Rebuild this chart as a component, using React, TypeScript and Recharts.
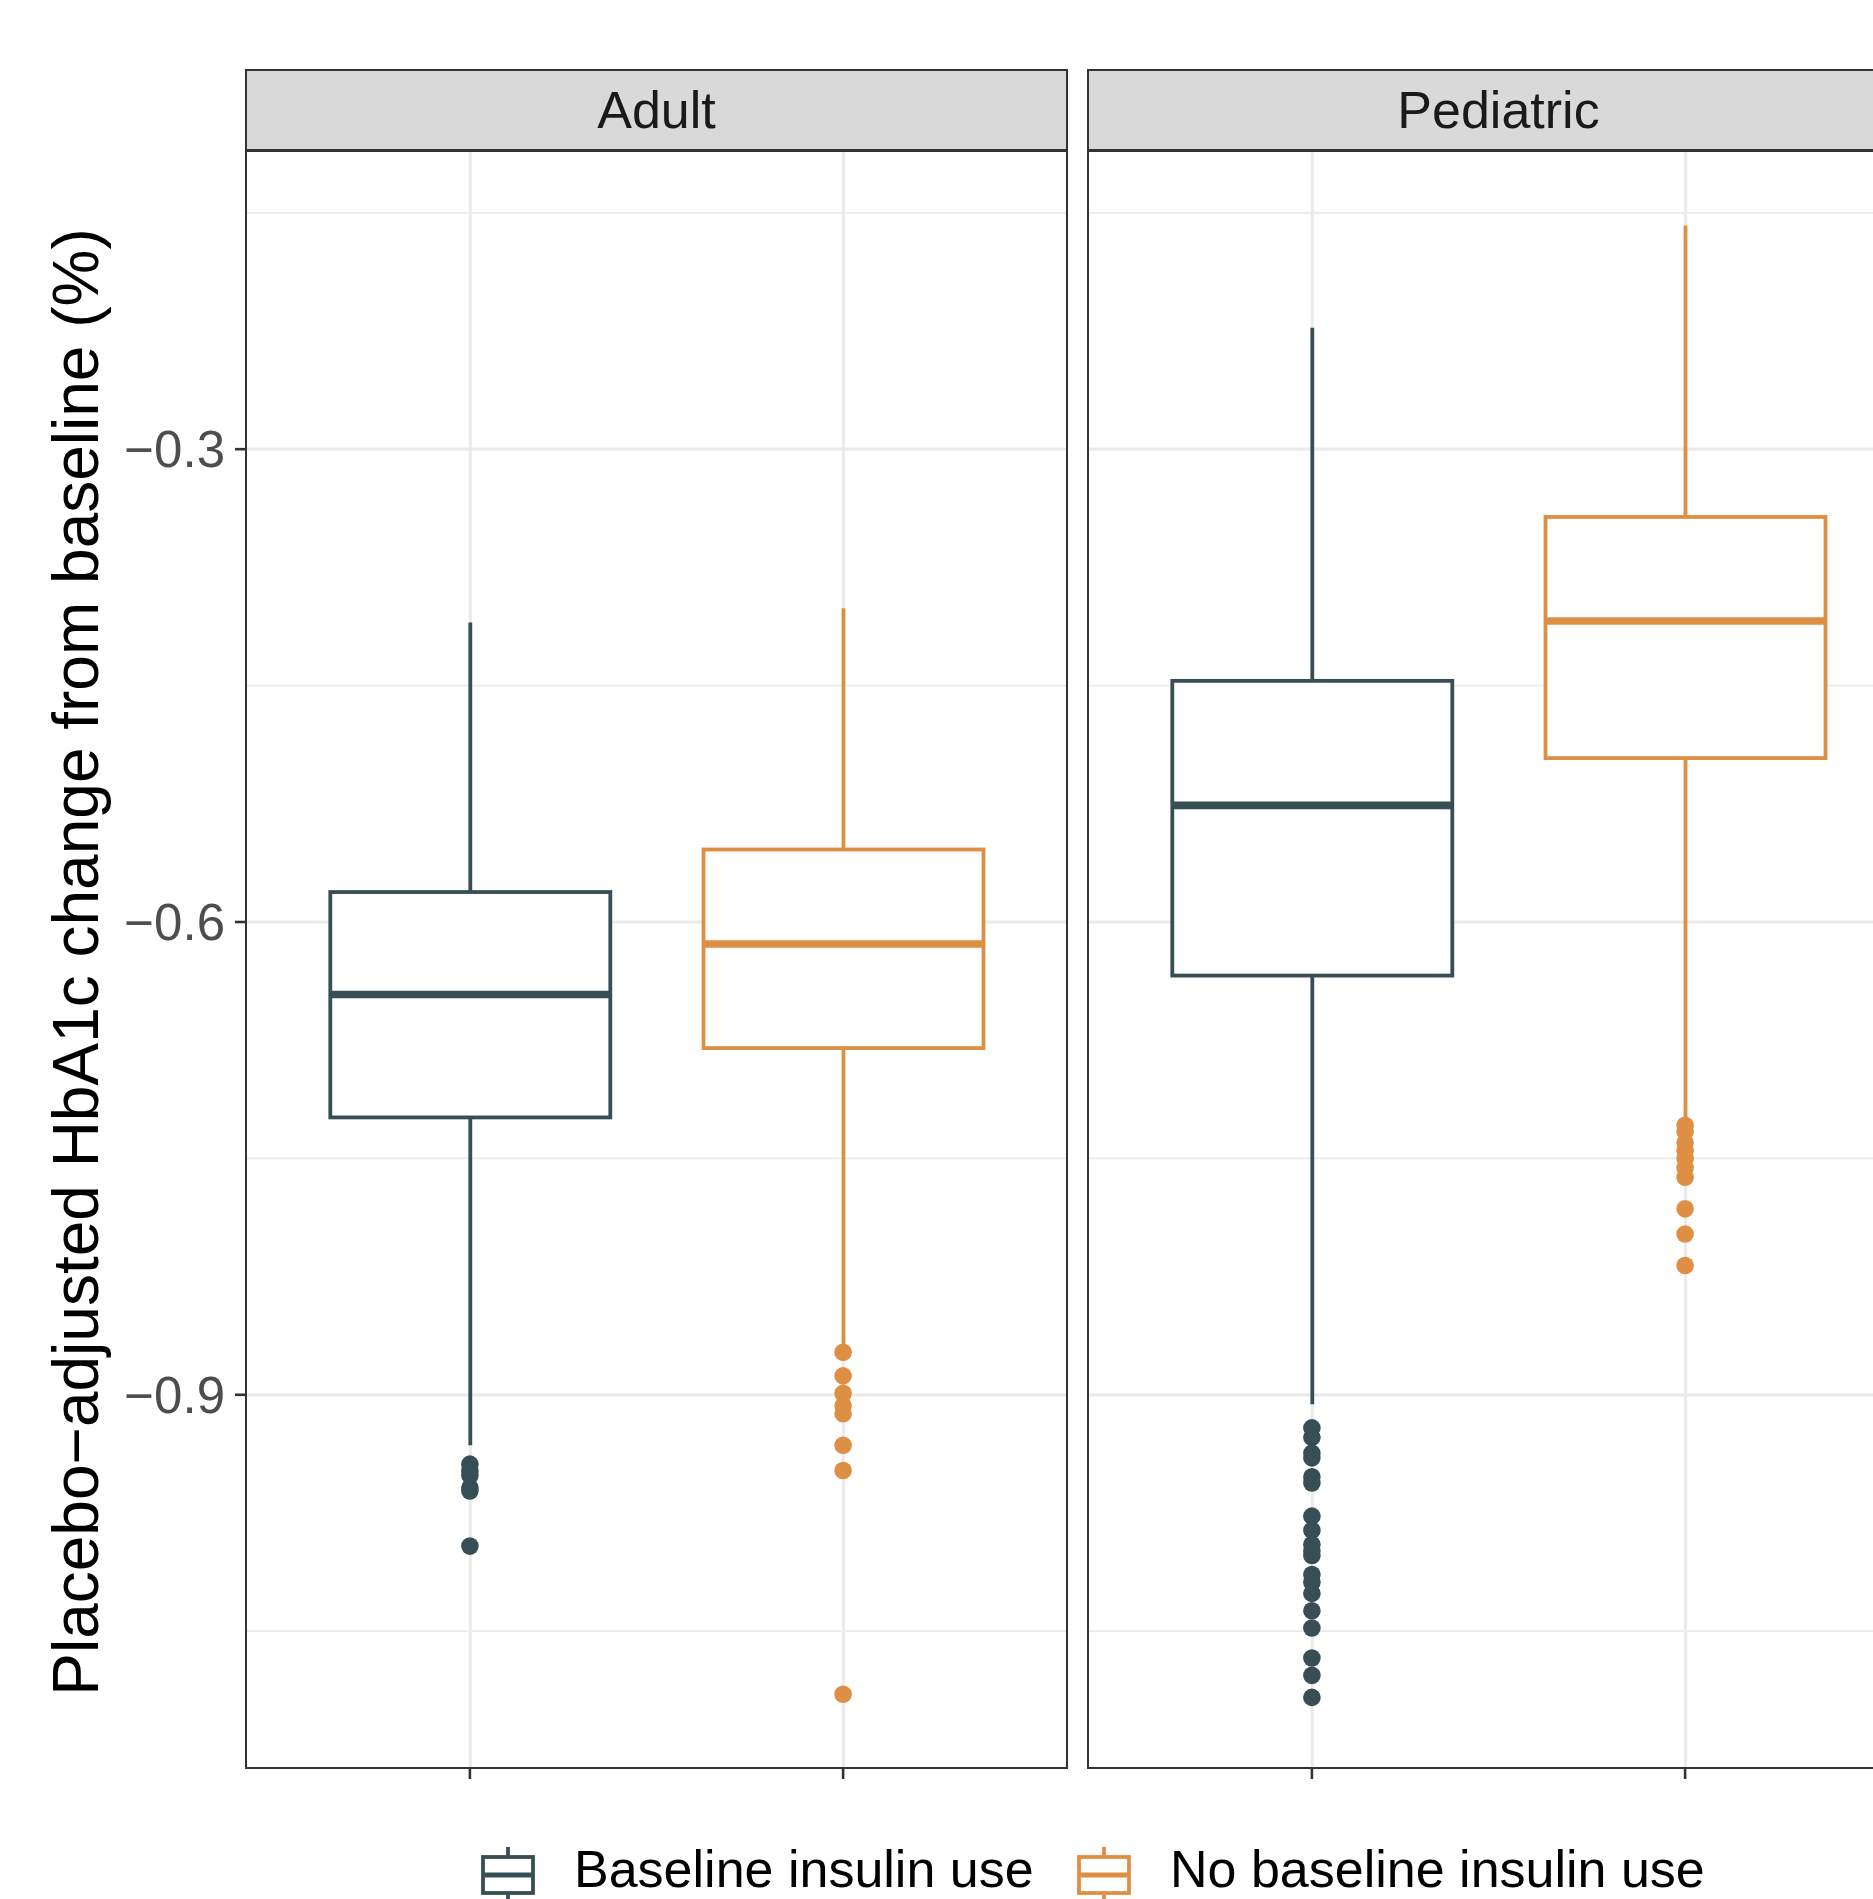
import React from "react";
import { ComposedChart, Bar, Scatter, XAxis, YAxis, CartesianGrid } from "recharts";

const FONT = '"Liberation Sans", Arial, Helvetica, sans-serif';

const PANELS = ["Adult", "Pediatric"];
const GROUPS = ["Baseline insulin use", "No baseline insulin use"];
const COLORS = ["#374E55", "#DF8F44"];

// box stats: [lower whisker, Q1, median, Q3, upper whisker]
const adultBaseline = [-0.932, -0.724, -0.646, -0.581, -0.41];
const adultNoBaseline = [-0.87, -0.68, -0.614, -0.554, -0.401];
const pediatricBaseline = [-0.906, -0.634, -0.526, -0.447, -0.223];
const pediatricNoBaseline = [-0.725, -0.496, -0.409, -0.343, -0.158];

// outliers
const adultBaselineOut = [-0.944, -0.948, -0.951, -0.959, -0.961, -0.996];
const adultNoBaselineOut = [-0.873, -0.888, -0.899, -0.907, -0.912, -0.932, -0.948, -1.09];
const pediatricBaselineOut = [
  -0.921, -0.927, -0.937, -0.94, -0.952, -0.956, -0.977, -0.986, -0.995, -0.999,
  -1.002, -1.014, -1.019, -1.026, -1.037, -1.048, -1.067, -1.078, -1.092,
];
const pediatricNoBaselineOut = [-0.729, -0.733, -0.74, -0.745, -0.75, -0.756, -0.762, -0.782, -0.798, -0.818];

const MAJOR_TICKS = [-0.9, -0.6, -0.3];
const MINOR_TICKS = [-1.05, -0.75, -0.45, -0.15];
const Y_DOMAIN = [-1.1368, -0.1108];

const toBox = (cat: string, s: number[]) => ({ cat, lo: s[0], q1: s[1], med: s[2], q3: s[3], hi: s[4] });

const panelBoxes = [
  [toBox(GROUPS[0], adultBaseline), toBox(GROUPS[1], adultNoBaseline)],
  [toBox(GROUPS[0], pediatricBaseline), toBox(GROUPS[1], pediatricNoBaseline)],
];
const panelOutliers = [
  [adultBaselineOut, adultNoBaselineOut],
  [pediatricBaselineOut, pediatricNoBaselineOut],
];

// layout
const PANEL_TOP = 151;
const PANEL_H = 1617;
const PANEL_W = 821;
const PANEL_LEFTS = [246, 1088];
const Y_AXIS_W = 246;
const STRIP_TOP = 69;
const STRIP_H = 82;
const LINE = 2.6;
const BOX_LINE = 3.8;
const GRID = "#EBEBEB";

function BoxShape(props: any) {
  const { x, y, width, height, payload } = props;
  if (!payload) return null;
  const color = COLORS[GROUPS.indexOf(payload.cat)];
  const top = Math.min(y, y + height);
  const bottom = Math.max(y, y + height);
  const pix = (v: number) => top + ((payload.hi - v) / (payload.hi - payload.lo)) * (bottom - top);
  const cx = x + width / 2;
  const yq3 = pix(payload.q3);
  const yq1 = pix(payload.q1);
  const ymed = pix(payload.med);
  return (
    <g>
      <line x1={cx} x2={cx} y1={top} y2={yq3} stroke={color} strokeWidth={BOX_LINE} />
      <line x1={cx} x2={cx} y1={yq1} y2={bottom} stroke={color} strokeWidth={BOX_LINE} />
      <rect x={x} y={yq3} width={width} height={yq1 - yq3} fill="#FFFFFF" stroke={color} strokeWidth={BOX_LINE} />
      <line x1={x} x2={x + width} y1={ymed} y2={ymed} stroke={color} strokeWidth={BOX_LINE * 2} />
    </g>
  );
}

// vertical major gridline through each category, drawn under the box
function VGrid(props: any) {
  const { x, y, width, height } = props;
  const cx = x + width / 2;
  return <line x1={cx} x2={cx} y1={y} y2={y + height} stroke={GRID} strokeWidth={3.2} />;
}

const fmt = (v: number) => (v < 0 ? "\u2212" : "") + Math.abs(v).toFixed(1);

function Panel({ idx }: { idx: number }) {
  const showY = idx === 0;
  const yw = showY ? Y_AXIS_W : 0;
  const left = PANEL_LEFTS[idx];
  return (
    <>
      <div
        style={{
          position: "absolute",
          left: left - 1.2,
          top: STRIP_TOP,
          width: PANEL_W + 2.4,
          height: STRIP_H,
          boxSizing: "border-box",
          border: "2.4px solid #333333",
          background: "#D9D9D9",
          display: "flex",
          alignItems: "center",
          justifyContent: "center",
          fontSize: 52,
          color: "#1A1A1A",
          fontFamily: FONT,
        }}
      >
        {PANELS[idx]}
      </div>
      <div style={{ position: "absolute", left: left - yw, top: PANEL_TOP }}>
        <ComposedChart
          width={PANEL_W + yw}
          height={PANEL_H + 14}
          data={panelBoxes[idx]}
          margin={{ top: 0, right: 0, bottom: 0, left: 0 }}
        >
          <CartesianGrid stroke={GRID} strokeWidth={1.8} vertical={false} horizontalValues={MINOR_TICKS} />
          <CartesianGrid stroke={GRID} strokeWidth={3.2} vertical={false} horizontalValues={MAJOR_TICKS} />
          <XAxis
            dataKey="cat"
            type="category"
            allowDuplicatedCategory={false}
            padding={{ left: 37.3, right: 37.3 }}
            height={14}
            tickFormatter={() => ""}
            tickSize={11}
            axisLine={false}
            tickLine={{ stroke: "#333333", strokeWidth: LINE }}
          />
          <YAxis
            type="number"
            domain={Y_DOMAIN}
            ticks={MAJOR_TICKS}
            hide={!showY}
            width={yw}
            tickFormatter={fmt}
            tickSize={11}
            tickMargin={10}
            axisLine={false}
            tickLine={{ stroke: "#333333", strokeWidth: LINE }}
            tick={{ fontSize: 51, fill: "#4D4D4D", fontFamily: FONT }}
          />
          <Bar
            dataKey={(d: any) => [d.lo, d.hi]}
            barSize={280}
            background={<VGrid />}
            shape={<BoxShape />}
            isAnimationActive={false}
          />
          {GROUPS.map((g, gi) => (
            <Scatter
              key={g}
              data={panelOutliers[idx][gi].map((v) => ({ cat: g, v }))}
              dataKey="v"
              isAnimationActive={false}
              shape={(p: any) => <circle cx={p.cx} cy={p.cy} r={8.8} fill={COLORS[gi]} />}
            />
          ))}
        </ComposedChart>
      </div>
      <div
        style={{
          position: "absolute",
          left: left - LINE / 2,
          top: PANEL_TOP - LINE / 2,
          width: PANEL_W + LINE,
          height: PANEL_H + LINE,
          boxSizing: "border-box",
          border: `${LINE}px solid #333333`,
          pointerEvents: "none",
        }}
      />
    </>
  );
}

const LEGEND_KEY_X = [508, 1104];
const LEGEND_TEXT_X = [574, 1170];

export default function App() {
  return (
    <div
      style={{
        position: "absolute",
        left: 0,
        top: 0,
        width: 1873,
        height: 1899,
        overflow: "hidden",
        background: "#FFFFFF",
        fontFamily: FONT,
      }}
    >
      <svg style={{ position: "absolute", left: 0, top: 0 }} width={160} height={1899}>
        <text
          transform="translate(98, 962) rotate(-90)"
          textAnchor="middle"
          fontSize={64}
          fontFamily={FONT}
          fill="#000000"
        >
          Placebo{"\u2212"}adjusted HbA1c change from baseline (%)
        </text>
      </svg>
      {PANELS.map((p, i) => (
        <Panel key={p} idx={i} />
      ))}
      <svg style={{ position: "absolute", left: 0, top: 1830 }} width={1873} height={69}>
        {GROUPS.map((g, gi) => {
          const cx = LEGEND_KEY_X[gi];
          return (
            <g key={g}>
              <line x1={cx} x2={cx} y1={17} y2={27} stroke={COLORS[gi]} strokeWidth={BOX_LINE} />
              <line x1={cx} x2={cx} y1={63} y2={73} stroke={COLORS[gi]} strokeWidth={BOX_LINE} />
              <rect x={cx - 25} y={27} width={50} height={36} fill="#FFFFFF" stroke={COLORS[gi]} strokeWidth={BOX_LINE} />
              <line x1={cx - 25} x2={cx + 25} y1={45} y2={45} stroke={COLORS[gi]} strokeWidth={5} />
              <text x={LEGEND_TEXT_X[gi]} y={57} fontSize={52} fontFamily={FONT} fill="#000000">
                {g}
              </text>
            </g>
          );
        })}
      </svg>
    </div>
  );
}
